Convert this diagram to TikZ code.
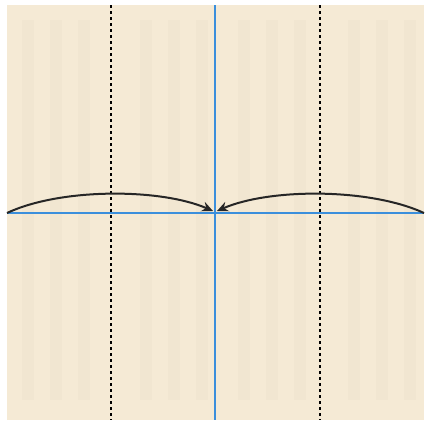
\documentclass[tikz,border=0pt]{standalone}
\usepackage{tikz}
\usetikzlibrary{arrows.meta}

\definecolor{paper}{HTML}{F5EAD5}
\definecolor{paperdark}{HTML}{ECE0CA}
\definecolor{creaseblue}{HTML}{3B8FDC}

\tikzset{
  valley/.style={black,line width=2pt,dash pattern=on 3pt off 3pt},
  crease/.style={creaseblue,line width=1.7pt},
  foldarrow/.style={black!85,line width=2pt,-{Stealth[length=11pt,width=10pt]}}
}

\begin{document}
\begin{tikzpicture}[x=1pt,y=-1pt]
\useasboundingbox (0,0) rectangle (426,423);
\fill[paper] (7,5) rectangle (424,420);
% faint print showing through the paper
\foreach \sx in {22,50,78,140,168,196,238,266,294,348,376,404}
  \fill[paperdark,opacity=0.35] (\sx,20) rectangle (\sx+12,400);
\coordinate (lefttop) at (111,5);
\coordinate (leftbot) at (111,420);
\coordinate (righttop) at (320,5);
\coordinate (rightbot) at (320,420);
\coordinate (midtop) at (215,5);
\coordinate (midbot) at (215,420);
\coordinate (leftedge) at (7,213);
\coordinate (rightedge) at (424,213);
\coordinate (leftend) at (213,211);
\coordinate (rightend) at (217,211);
\draw[valley] (lefttop) -- (leftbot);
\draw[valley] (righttop) -- (rightbot);
\draw[crease] (midtop) -- (midbot);
\draw[crease] (leftedge) -- (rightedge);
\draw[foldarrow] (leftedge) .. controls (60,188) and (160,188) .. (leftend);
\draw[foldarrow] (rightedge) .. controls (370,188) and (270,188) .. (rightend);
\end{tikzpicture}
\end{document}
